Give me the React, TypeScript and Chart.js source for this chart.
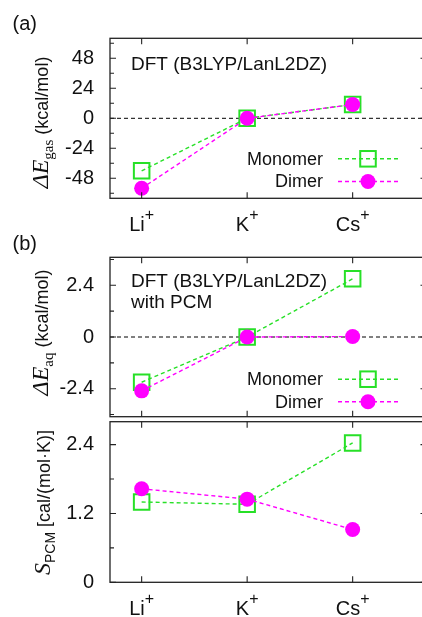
import React, { useEffect, useRef } from 'react';
import { Chart, registerables } from 'chart.js';

Chart.register(...registerables);

// ---------- data ----------
const categories = ['Li', 'K', 'Cs'];
const categoryCharge = '+';
const xPositions = [1, 2, 3];
const seriesNames = ['Monomer', 'Dimer'];

const gasMonomer = [-42, 0, 11];
const gasDimer = [-56, 0, 11];
const aqMonomer = [-2.1, 0, 2.7];
const aqDimer = [-2.5, 0, 0.02];
const pcmMonomer = [1.4, 1.36, 2.43];
const pcmDimer = [1.63, 1.45, 0.92];

const gasMajorTicks = [-48, -24, 0, 24, 48];
const gasMinorTicks = [-60, -36, -12, 12, 36, 60];
const aqMajorTicks = [-2.4, 0, 2.4];
const aqMinorTicks = [-3.6, -1.2, 1.2, 3.6];
const pcmMajorTicks = [0, 1.2, 2.4];
const pcmMinorTicks = [0.6, 1.8];

const annotationGas = ['DFT (B3LYP/LanL2DZ)'];
const annotationAq = ['DFT (B3LYP/LanL2DZ)', 'with PCM'];

// ---------- style ----------
const SANS = '"Liberation Sans", Arial, Helvetica, sans-serif';
const SERIF = '"Liberation Serif", "Times New Roman", serif';
const GREEN = '#27e027';
const MAGENTA = '#ff00ff';
const INK = '#111111';
const FRAME = '#222222';
const CW = 440;
const CH = 617;

type Piece = { text: string; font: string; dy: number };

type Panel = {
  monomer: number[];
  dimer: number[];
  yMin: number;
  yMax: number;
  major: number[];
  minor: number[];
  padTop: number;
  padBottom: number;
  zeroLine: boolean;
  legendRows: number[] | null;
  xLabels: boolean;
  annotation: string[];
  annotationBaselines: number[];
  title: Piece[];
  titleCenterY: number;
  titleBaselineX: number;
  panelLabel: { text: string; x: number; y: number } | null;
};

const panels: Panel[] = [
  {
    monomer: gasMonomer,
    dimer: gasDimer,
    yMin: -64,
    yMax: 64,
    major: gasMajorTicks,
    minor: gasMinorTicks,
    padTop: 38.3,
    padBottom: CH - 198.3,
    zeroLine: true,
    legendRows: [39.5, 16.8],
    xLabels: true,
    annotation: annotationGas,
    annotationBaselines: [31.7],
    title: [
      { text: 'Δ', font: `italic 24px ${SERIF}`, dy: 0 },
      { text: 'E', font: `italic 24px ${SERIF}`, dy: 0 },
      { text: 'gas', font: `15px ${SERIF}`, dy: 5 },
      { text: ' (kcal/mol)', font: `18px ${SANS}`, dy: 0 },
    ],
    titleCenterY: 122.5,
    titleBaselineX: 48,
    panelLabel: { text: '(a)', x: 12.5, y: 29.5 },
  },
  {
    monomer: aqMonomer,
    dimer: aqDimer,
    yMin: -3.7,
    yMax: 3.7,
    major: aqMajorTicks,
    minor: aqMinorTicks,
    padTop: 257.3,
    padBottom: CH - 416.7,
    zeroLine: true,
    legendRows: [37.5, 15],
    xLabels: false,
    annotation: annotationAq,
    annotationBaselines: [29.2, 50.2],
    title: [
      { text: 'Δ', font: `italic 24px ${SERIF}`, dy: 0 },
      { text: 'E', font: `italic 24px ${SERIF}`, dy: 0 },
      { text: 'aq', font: `15px ${SERIF}`, dy: 5 },
      { text: ' (kcal/mol)', font: `18px ${SANS}`, dy: 0 },
    ],
    titleCenterY: 332.5,
    titleBaselineX: 48,
    panelLabel: { text: '(b)', x: 12.5, y: 250 },
  },
  {
    monomer: pcmMonomer,
    dimer: pcmDimer,
    yMin: 0,
    yMax: 2.8,
    major: pcmMajorTicks,
    minor: pcmMinorTicks,
    padTop: 421.7,
    padBottom: CH - 582.3,
    zeroLine: false,
    legendRows: null,
    xLabels: true,
    annotation: [],
    annotationBaselines: [],
    title: [
      { text: 'S', font: `italic 24px ${SERIF}`, dy: 0 },
      { text: 'PCM', font: `14px ${SANS}`, dy: 5 },
      { text: ' [cal/(mol·K)]', font: `18px ${SANS}`, dy: 0 },
    ],
    titleCenterY: 502.5,
    titleBaselineX: 50,
    panelLabel: null,
  },
];

function drawRotatedRich(ctx: CanvasRenderingContext2D, pieces: Piece[], baseX: number, cy: number) {
  ctx.save();
  ctx.translate(baseX, cy);
  ctx.rotate(-Math.PI / 2);
  const widths = pieces.map((p) => {
    ctx.font = p.font;
    return ctx.measureText(p.text).width;
  });
  const total = widths.reduce((a, b) => a + b, 0);
  let x = -total / 2;
  ctx.fillStyle = INK;
  ctx.textAlign = 'left';
  ctx.textBaseline = 'alphabetic';
  pieces.forEach((p, i) => {
    ctx.font = p.font;
    ctx.fillText(p.text, x, p.dy);
    x += widths[i];
  });
  ctx.restore();
}

function makeDecorPlugin(panel: Panel) {
  return {
    id: 'decor',
    beforeDatasetsDraw(chart: any) {
      if (!panel.zeroLine) return;
      const { ctx, chartArea } = chart;
      const y0 = chart.scales.y.getPixelForValue(0);
      ctx.save();
      ctx.strokeStyle = '#000';
      ctx.lineWidth = 1;
      ctx.setLineDash([4, 3]);
      ctx.beginPath();
      ctx.moveTo(chartArea.left, y0);
      ctx.lineTo(chartArea.right, y0);
      ctx.stroke();
      ctx.restore();
    },
    afterDraw(chart: any) {
      const { ctx, chartArea } = chart;
      const { left, right, top, bottom } = chartArea;
      const xs = chart.scales.x;
      const ys = chart.scales.y;
      ctx.save();
      // frame
      ctx.strokeStyle = FRAME;
      ctx.lineWidth = 1.3;
      ctx.setLineDash([]);
      ctx.strokeRect(left, top, right - left, bottom - top);
      // ticks
      ctx.lineWidth = 1.1;
      ctx.beginPath();
      panel.major.forEach((v) => {
        const py = ys.getPixelForValue(v);
        ctx.moveTo(left, py);
        ctx.lineTo(left + 6, py);
        ctx.moveTo(right, py);
        ctx.lineTo(right - 6, py);
      });
      panel.minor.forEach((v) => {
        const py = ys.getPixelForValue(v);
        ctx.moveTo(left, py);
        ctx.lineTo(left + 4, py);
        ctx.moveTo(right, py);
        ctx.lineTo(right - 4, py);
      });
      xPositions.forEach((v) => {
        const px = xs.getPixelForValue(v);
        ctx.moveTo(px, bottom);
        ctx.lineTo(px, bottom - 6);
        ctx.moveTo(px, top);
        ctx.lineTo(px, top + 6);
      });
      ctx.stroke();

      // x labels with superscript charge
      if (panel.xLabels) {
        ctx.fillStyle = INK;
        ctx.textBaseline = 'alphabetic';
        ctx.textAlign = 'left';
        categories.forEach((c, i) => {
          const px = xs.getPixelForValue(xPositions[i]);
          ctx.font = `20px ${SANS}`;
          const w = ctx.measureText(c).width;
          ctx.font = `16px ${SANS}`;
          const ws = ctx.measureText(categoryCharge).width;
          const x0 = px - (w + ws) / 2;
          const base = bottom + 33;
          ctx.font = `20px ${SANS}`;
          ctx.fillText(c, x0, base);
          ctx.font = `16px ${SANS}`;
          ctx.fillText(categoryCharge, x0 + w, base - 11.5);
        });
      }

      // annotation
      ctx.fillStyle = INK;
      ctx.textAlign = 'left';
      ctx.textBaseline = 'alphabetic';
      ctx.font = `19px ${SANS}`;
      panel.annotation.forEach((t, i) => {
        ctx.fillText(t, left + 21, top + panel.annotationBaselines[i]);
      });

      // legend
      if (panel.legendRows) {
        chart.data.datasets.forEach((ds: any, i: number) => {
          const y = bottom - panel.legendRows![i];
          ctx.font = `18px ${SANS}`;
          ctx.fillStyle = INK;
          ctx.textAlign = 'right';
          ctx.textBaseline = 'middle';
          ctx.fillText(ds.label, left + 213, y + 1);
          ctx.strokeStyle = ds.borderColor;
          ctx.lineWidth = ds.borderWidth;
          ctx.setLineDash(ds.borderDash);
          ctx.beginPath();
          ctx.moveTo(left + 228, y);
          ctx.lineTo(left + 288, y);
          ctx.stroke();
          ctx.setLineDash([]);
          const mx = left + 258;
          if (ds.pointStyle === 'rect') {
            const s = ds.pointRadius * Math.SQRT1_2;
            ctx.lineWidth = ds.pointBorderWidth;
            ctx.strokeStyle = ds.pointBorderColor;
            ctx.strokeRect(mx - s, y - s, 2 * s, 2 * s);
          } else {
            ctx.fillStyle = ds.pointBackgroundColor;
            ctx.beginPath();
            ctx.arc(mx, y, ds.pointRadius, 0, Math.PI * 2);
            ctx.fill();
          }
        });
      }

      // y title
      drawRotatedRich(ctx, panel.title, panel.titleBaselineX, panel.titleCenterY);

      // panel label
      if (panel.panelLabel) {
        ctx.fillStyle = INK;
        ctx.textAlign = 'left';
        ctx.textBaseline = 'alphabetic';
        ctx.font = `20px ${SANS}`;
        ctx.fillText(panel.panelLabel.text, panel.panelLabel.x, panel.panelLabel.y);
      }
      ctx.restore();
    },
  };
}

function buildConfig(panel: Panel): any {
  const major = panel.major;
  return {
    type: 'line',
    data: {
      datasets: [
        {
          label: seriesNames[0],
          data: xPositions.map((x, i) => ({ x, y: panel.monomer[i] })),
          borderColor: GREEN,
          borderWidth: 1.4,
          borderDash: [4, 3],
          pointStyle: 'rect',
          pointRadius: 11,
          pointHoverRadius: 11,
          pointBorderWidth: 2,
          pointBorderColor: GREEN,
          pointBackgroundColor: 'rgba(0,0,0,0)',
          fill: false,
          tension: 0,
          order: 1,
        },
        {
          label: seriesNames[1],
          data: xPositions.map((x, i) => ({ x, y: panel.dimer[i] })),
          borderColor: MAGENTA,
          borderWidth: 1.4,
          borderDash: [4, 3],
          pointStyle: 'circle',
          pointRadius: 7.5,
          pointHoverRadius: 7.5,
          pointBorderWidth: 0,
          pointBorderColor: MAGENTA,
          pointBackgroundColor: MAGENTA,
          fill: false,
          tension: 0,
          order: 0,
        },
      ],
    },
    options: {
      responsive: false,
      animation: false,
      events: [],
      layout: { padding: { left: 0, right: CW - 426.5, top: panel.padTop, bottom: panel.padBottom } },
      plugins: { legend: { display: false }, tooltip: { enabled: false } },
      scales: {
        x: { type: 'linear', min: 0.7, max: 3.7, display: false },
        y: {
          type: 'linear',
          min: panel.yMin,
          max: panel.yMax,
          afterFit: (s: any) => {
            s.width = 110;
          },
          afterBuildTicks: (s: any) => {
            s.ticks = major.map((v) => ({ value: v }));
          },
          ticks: {
            autoSkip: false,
            padding: 16,
            color: INK,
            font: { family: SANS, size: 20 },
            callback: (v: number) => String(v),
          },
          grid: { display: false, drawTicks: false },
          border: { display: false },
        },
      },
    },
    plugins: [makeDecorPlugin(panel)],
  };
}

function PanelChart({ panel }: { panel: Panel }) {
  const ref = useRef<HTMLCanvasElement>(null);
  useEffect(() => {
    if (!ref.current) return;
    const chart = new Chart(ref.current, buildConfig(panel));
    return () => chart.destroy();
  }, [panel]);
  return (
    <canvas
      ref={ref}
      width={CW}
      height={CH}
      style={{ position: 'absolute', left: 0, top: 0, width: CW, height: CH }}
    />
  );
}

export default function App() {
  return (
    <div
      style={{
        position: 'absolute',
        left: 0,
        top: 0,
        width: 422,
        height: 617,
        overflow: 'hidden',
        background: '#ffffff',
      }}
    >
      {panels.map((p, i) => (
        <PanelChart key={i} panel={p} />
      ))}
    </div>
  );
}
